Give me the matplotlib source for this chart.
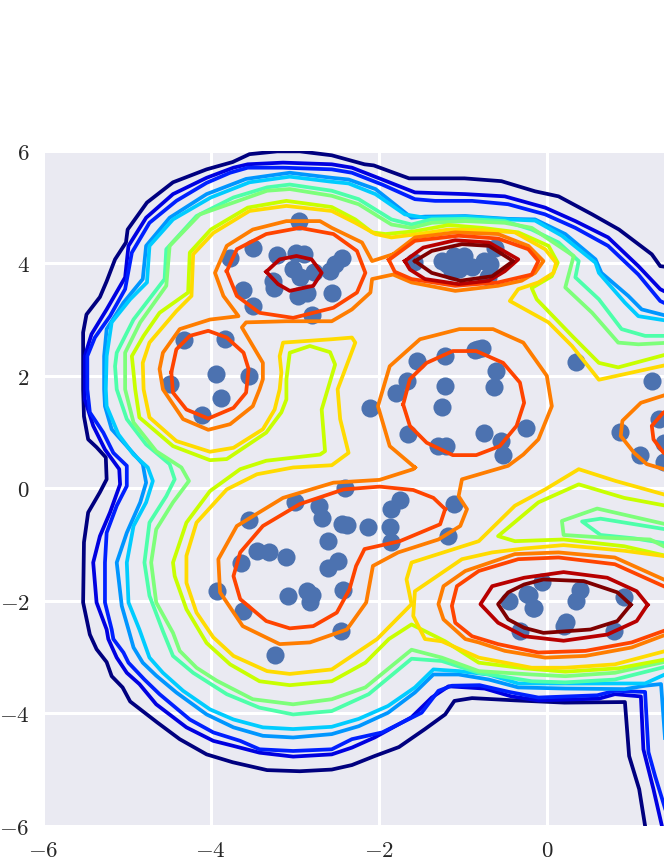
import matplotlib
matplotlib.use("Agg")
import matplotlib.pyplot as plt

plt.rcParams["mathtext.fontset"] = "cm"

# Scatter points
points_x = [-2.95, -3.5, -3.77, -3.21, -2.98, -2.89, -3.02, -2.94, -2.77, -3.26, -3.25, -3.62, -3.5, -2.96, -2.86,
            -2.56, -2.79, -2.58, -2.52, -2.44,
            -0.62, -1.25, -1.1, -1.19, -1.05, -0.89, -0.75, -0.68, -1.58, -0.98, -1.13, -0.7,
            -4.32, -3.83, -3.94, -3.54, -4.48, -4.11, -3.88,
            -1.54, -1.21, -0.82, -0.86, -0.77, -0.61, -0.63, -1.67, -1.79, -1.21, -1.25, -2.11, -1.65, -1.3, -1.2,
            -0.75, -0.55, -0.52, -0.25,
            0.35, 1.25, 0.87, 1.11, 1.33, 1.4, 1.4,
            -2.4, -3.0, -3.54, -2.71, -2.68, -2.44, -2.38, -2.13, -1.75, -1.85, -1.87, -1.85, -1.1, -1.18, -2.6,
            -2.48, -2.6, -3.45, -3.31, -3.11, -3.64, -2.43, -3.93, -3.08, -2.86, -2.79, -2.82, -3.62, -2.45, -3.23,
            -0.06, -0.21, -0.17, 0.4, 0.35, 0.92, 0.23, 0.2, 0.8, -0.45, -0.23, -0.15, -0.32]
points_y = [4.75, 4.28, 4.1, 4.14, 4.19, 4.16, 3.89, 3.75, 3.84, 3.68, 3.56, 3.52, 3.24, 3.41, 3.48,
            3.47, 3.08, 3.86, 3.98, 4.1,
            4.28, 4.04, 4.13, 3.98, 3.89, 3.93, 4.04, 3.98, 4.02, 4.13, 3.86, 3.75,
            2.63, 2.65, 2.04, 1.99, 1.85, 1.3, 1.6,
            2.27, 2.35, 2.47, 2.45, 2.49, 2.08, 1.8, 1.9, 1.69, 1.81, 1.44, 1.42, 0.96, 0.75, 0.76,
            0.98, 0.84, 0.6, 1.08,
            2.24, 1.9, 1.0, 0.59, 1.23, 0.46, 0.8,
            0.0, -0.25, -0.57, -0.32, -0.53, -0.64, -0.66, -0.69, -0.2, -0.36, -0.68, -0.96, -0.28, -0.84, -0.94,
            -1.3, -1.42, -1.12, -1.14, -1.23, -1.32, -1.8, -1.83, -1.92, -1.83, -1.9, -2.03, -2.19, -2.54, -2.97,
            -1.67, -1.9, -2.12, -1.8, -2.01, -1.94, -2.38, -2.45, -2.54, -2.01, -1.88, -2.12, -2.54]

# Contours, lowest level first
navy_line = [(1.17, -6), (1.1, -5.35), (0.98, -4.76), (0.93, -3.8), (0.21, -3.81), (-0.38, -3.77), (-0.89, -3.73),
             (-1.1, -3.78), (-1.21, -4.02), (-1.45, -4.28), (-1.76, -4.6), (-2.05, -4.76), (-2.32, -4.92),
             (-2.56, -5.0), (-2.94, -5.03), (-3.33, -5.01), (-3.74, -4.87), (-4.05, -4.73), (-4.37, -4.46),
             (-4.64, -4.16), (-4.96, -3.79), (-5.05, -3.54), (-5.18, -3.34), (-5.24, -3.09), (-5.36, -2.86),
             (-5.44, -2.6), (-5.52, -2.03), (-5.51, -0.96), (-5.46, -0.43), (-5.32, -0.07), (-5.24, 0.16),
             (-5.25, 0.55), (-5.36, 0.73), (-5.46, 0.87), (-5.51, 1.28), (-5.52, 1.76), (-5.52, 2.77), (-5.48, 3.09),
             (-5.32, 3.4), (-5.24, 3.68), (-5.14, 4.07), (-5.01, 4.37), (-4.99, 4.6), (-4.76, 5.08), (-4.45, 5.44),
             (-4.05, 5.67), (-3.74, 5.8), (-3.54, 5.94), (-3.21, 5.99), (-2.94, 5.99), (-2.56, 5.92), (-2.17, 5.76),
             (-2.06, 5.74), (-1.64, 5.51), (-0.98, 5.51), (-0.54, 5.46), (-0.14, 5.28), (0.14, 5.19), (0.54, 4.87),
             (0.86, 4.6), (1.25, 4.16), (1.35, 3.95), (1.6, 3.9)]
blue_outer = [(1.37, -6), (1.27, -5.35), (1.15, -4.64), (1.12, -3.7), (0.81, -3.66), (0.62, -3.74), (-0.1, -3.77),
              (-0.42, -3.7), (-0.74, -3.56), (-1.17, -3.52), (-1.37, -3.72), (-1.61, -4.07), (-2.05, -4.43),
              (-2.32, -4.61), (-2.56, -4.73), (-3.02, -4.77), (-3.42, -4.7), (-3.73, -4.58), (-3.97, -4.49),
              (-4.29, -4.25), (-4.65, -3.84), (-4.85, -3.48), (-5.0, -3.28), (-5.12, -3.01), (-5.22, -2.68),
              (-5.24, -2.51), (-5.36, -2.03), (-5.4, -1.32), (-5.32, -0.85), (-5.2, -0.43), (-5.08, 0.07),
              (-5.09, 0.34), (-5.26, 0.69), (-5.4, 1.11), (-5.5, 1.58), (-5.5, 2.35), (-5.42, 2.74), (-5.24, 3.18),
              (-5.02, 3.75), (-4.98, 4.31), (-4.77, 4.81), (-4.45, 5.23), (-4.05, 5.52), (-3.73, 5.7), (-3.56, 5.76),
              (-3.14, 5.79), (-2.56, 5.76), (-2.32, 5.7), (-1.96, 5.49), (-1.57, 5.26), (-0.97, 5.23), (-0.5, 5.19),
              (-0.02, 4.99), (0.34, 4.75), (0.73, 4.46), (1.09, 3.95), (1.35, 3.54), (1.6, 3.35)]
blue_inner = [(1.42, -5.75), (1.29, -5.12), (1.21, -4.69), (1.17, -3.62), (0.81, -3.6), (0.6, -3.68), (-0.1, -3.72),
              (-0.45, -3.62), (-0.8, -3.5), (-1.13, -3.51), (-1.29, -3.6), (-1.49, -3.99), (-1.96, -4.34),
              (-2.32, -4.46), (-2.56, -4.64), (-3.02, -4.67), (-3.42, -4.64), (-3.65, -4.49), (-3.97, -4.34),
              (-4.25, -4.11), (-4.61, -3.66), (-4.79, -3.4), (-4.98, -3.1), (-5.04, -2.92), (-5.16, -2.68),
              (-5.18, -2.51), (-5.26, -2.03), (-5.26, -1.32), (-5.24, -0.79), (-5.12, -0.31), (-5.0, 0.04), (-5.0, 0.4),
              (-5.16, 0.63), (-5.28, 0.99), (-5.44, 1.35), (-5.47, 1.76), (-5.47, 2.35), (-5.38, 2.68), (-5.2, 3.06),
              (-5.02, 3.54), (-4.94, 4.19), (-4.73, 4.72), (-4.41, 5.11), (-4.05, 5.43), (-3.77, 5.61), (-3.56, 5.7),
              (-3.14, 5.7), (-2.56, 5.67), (-2.32, 5.61), (-1.96, 5.4), (-1.57, 5.14), (-1.33, 5.11), (-0.89, 5.11),
              (-0.46, 5.05), (-0.02, 4.87), (0.34, 4.63), (0.73, 4.31), (1.09, 3.8), (1.35, 3.33), (1.6, 3.15)]
azure_line = [(1.42, -4.7), (1.36, -3.48), (1.17, -3.51), (0.93, -3.57), (0.22, -3.56), (-0.34, -3.54), (-0.69, -3.4),
              (-1.05, -3.31), (-1.35, -3.31), (-1.57, -3.63), (-1.89, -3.99), (-2.24, -4.23), (-2.56, -4.37),
              (-3.02, -4.43), (-3.38, -4.4), (-3.73, -4.25), (-4.05, -4.02), (-4.41, -3.63), (-4.65, -3.33),
              (-4.81, -3.1), (-4.92, -2.83), (-4.98, -2.51), (-5.06, -2.09), (-5.12, -1.32), (-5.0, -0.79),
              (-4.84, -0.25), (-4.77, 0.1), (-4.81, 0.43), (-5.0, 0.75), (-5.18, 1.05), (-5.26, 1.46), (-5.27, 1.76),
              (-5.27, 2.35), (-5.24, 2.83), (-5.04, 3.3), (-4.81, 3.72), (-4.77, 4.31), (-4.49, 4.81), (-4.05, 5.23),
              (-3.58, 5.5), (-3.06, 5.61), (-2.56, 5.52), (-2.36, 5.49), (-2.04, 5.32), (-1.61, 4.81), (-1.45, 4.83),
              (-0.97, 4.84), (-0.46, 4.79), (-0.14, 4.78), (0.22, 4.52), (0.58, 4.07), (0.65, 3.83), (0.97, 3.42),
              (1.13, 3.18), (1.6, 3.0)]
cyan_line = [(1.42, -3.3), (1.17, -3.47), (0.93, -3.47), (0.22, -3.47), (-0.34, -3.47), (-0.69, -3.31), (-1.05, -3.25),
             (-1.35, -3.22), (-1.57, -3.54), (-1.89, -3.87), (-2.24, -4.1), (-2.56, -4.24), (-3.02, -4.28),
             (-3.38, -4.25), (-3.73, -4.11), (-4.01, -3.93), (-4.33, -3.6), (-4.57, -3.28), (-4.73, -3.01),
             (-4.85, -2.51), (-4.98, -2.03), (-5.0, -1.32), (-4.92, -0.67), (-4.77, -0.25), (-4.69, 0.13),
             (-4.75, 0.37), (-4.92, 0.6), (-5.1, 0.96), (-5.24, 1.46), (-5.25, 1.76), (-5.24, 2.35), (-5.18, 2.95),
             (-4.96, 3.36), (-4.76, 3.66), (-4.73, 4.31), (-4.45, 4.78), (-4.0, 5.17), (-3.54, 5.44), (-3.06, 5.54),
             (-2.56, 5.45), (-2.36, 5.42), (-2.04, 5.23), (-1.69, 4.87), (-1.45, 4.81), (-0.97, 4.83), (-0.46, 4.78),
             (-0.14, 4.76), (0.18, 4.49), (0.58, 4.01), (0.62, 3.83), (0.93, 3.3), (1.09, 3.06), (1.6, 2.94)]
teal_line = [(1.42, -3.17), (0.81, -3.4), (0.22, -3.45), (-0.18, -3.43), (-0.81, -3.28), (-1.25, -3.07), (-1.61, -3.03),
             (-2.12, -3.66), (-2.56, -3.96), (-3.02, -4.02), (-3.42, -3.9), (-3.81, -3.66), (-4.21, -3.28),
             (-4.45, -2.98), (-4.57, -2.54), (-4.73, -1.91), (-4.79, -1.32), (-4.73, -0.61), (-4.53, -0.14),
             (-4.43, 0.16), (-4.49, 0.43), (-4.77, 0.78), (-5.0, 1.23), (-5.12, 1.76), (-5.14, 2.17), (-5.12, 2.41),
             (-4.92, 3.0), (-4.55, 3.72), (-4.53, 4.25), (-4.17, 4.84), (-3.73, 5.17), (-3.33, 5.35), (-3.06, 5.4),
             (-2.56, 5.29), (-2.24, 5.14), (-1.85, 4.78), (-1.61, 4.69), (-1.37, 4.78), (-0.97, 4.79), (-0.5, 4.75),
             (-0.18, 4.6), (0.14, 4.37), (0.38, 4.04), (0.34, 3.75), (0.62, 3.36), (0.89, 2.83), (1.17, 2.71),
             (1.6, 2.71)]
teal_island = [(1.42, -0.98), (1.04, -0.89), (0.64, -0.83), (0.42, -0.59), (0.64, -0.54), (1.42, -0.73)]
green_line = [(1.42, -3.08), (0.81, -3.28), (0.22, -3.34), (-0.18, -3.31), (-0.81, -3.25), (-1.25, -3.01),
              (-1.61, -2.87), (-2.16, -3.54), (-2.56, -3.75), (-3.02, -3.84), (-3.5, -3.75), (-3.93, -3.42),
              (-4.17, -3.19), (-4.37, -2.89), (-4.45, -2.57), (-4.65, -2.03), (-4.71, -1.32), (-4.65, -0.73),
              (-4.45, -0.25), (-4.26, 0.13), (-4.35, 0.37), (-4.65, 0.66), (-4.92, 1.17), (-5.02, 1.76), (-5.02, 2.41),
              (-4.84, 2.95), (-4.53, 3.6), (-4.49, 4.31), (-4.13, 4.87), (-3.73, 5.08), (-3.33, 5.29), (-3.06, 5.32),
              (-2.56, 5.2), (-2.24, 5.05), (-1.85, 4.69), (-1.61, 4.63), (-1.37, 4.72), (-0.97, 4.75), (-0.5, 4.72),
              (-0.18, 4.63), (0.14, 4.31), (0.32, 4.13), (0.22, 3.57), (0.54, 3.12), (0.85, 2.59), (1.09, 2.56),
              (1.6, 2.6)]
green_island = [(1.42, -1.05), (1.23, -0.91), (0.72, -0.88), (0.2, -0.83), (0.18, -0.58), (0.6, -0.36), (1.42, -0.64)]
lime_line = [(1.42, -3.04), (0.85, -3.2), (0.22, -3.26), (-0.27, -3.2), (-0.81, -3.1), (-1.21, -2.72), (-1.61, -2.42),
             (-1.88, -2.68), (-2.16, -3.1), (-2.56, -3.43), (-3.06, -3.5), (-3.42, -3.43), (-3.77, -3.13),
             (-4.05, -2.75), (-4.29, -2.15), (-4.43, -1.56), (-4.45, -1.32), (-4.29, -0.61), (-4.01, -0.05),
             (-3.65, 0.34), (-3.34, 0.49), (-2.7, 0.6), (-2.64, 0.66), (-2.68, 1.4), (-2.52, 2.2), (-2.58, 2.42),
             (-2.82, 2.53), (-3.06, 2.41), (-3.1, 1.94), (-3.1, 1.58), (-3.16, 1.35), (-3.34, 0.99), (-3.81, 0.52),
             (-4.01, 0.5), (-4.45, 0.75), (-4.85, 1.26), (-4.9, 1.76), (-4.92, 2.06), (-4.94, 2.35), (-4.8, 2.71),
             (-4.61, 3.12), (-4.27, 3.48), (-4.25, 4.19), (-4.0, 4.6), (-3.56, 4.99), (-3.1, 5.11), (-2.56, 5.0),
             (-2.28, 4.78), (-2.08, 4.55), (-1.92, 4.52), (-1.57, 4.57), (-1.17, 4.68), (-0.77, 4.63), (-0.34, 4.55),
             (0.02, 4.31), (0.13, 4.01), (0.06, 3.77), (-0.18, 3.56), (-0.12, 3.36), (0.3, 2.71), (0.62, 2.23),
             (0.85, 2.15), (1.6, 2.45)]
lime_tongue = [(1.42, -0.31), (0.92, -0.17), (0.38, 0.07), (-0.1, -0.25), (-0.58, -0.85), (-0.38, -0.94), (0.2, -0.91),
               (0.92, -1.03), (1.42, -1.2)]
yellow_line = [(1.42, -0.12), (0.82, 0.13), (0.38, 0.34), (-0.02, -0.02), (-0.38, -0.31), (-0.81, -0.94), (-1.61, -1.32),
               (-1.67, -1.62), (-1.61, -2.06), (-2.02, -2.68), (-2.56, -3.22), (-3.06, -3.3), (-3.33, -3.25),
               (-3.73, -2.98), (-3.97, -2.65), (-4.17, -2.21), (-4.29, -1.68), (-4.29, -1.2), (-4.17, -0.61),
               (-3.81, -0.02), (-3.45, 0.25), (-3.02, 0.37), (-2.56, 0.41), (-2.36, 0.63), (-2.46, 1.23), (-2.49, 1.76),
               (-2.28, 2.59), (-2.32, 2.68), (-2.56, 2.65), (-3.14, 2.59), (-3.18, 2.35), (-3.16, 2.06), (-3.18, 1.76),
               (-3.24, 1.4), (-3.38, 1.05), (-3.73, 0.72), (-4.01, 0.65), (-4.41, 0.84), (-4.73, 1.26), (-4.8, 1.76),
               (-4.81, 2.23), (-4.73, 2.59), (-4.41, 3.15), (-4.23, 3.42), (-4.21, 4.16), (-3.97, 4.54), (-3.54, 4.93),
               (-3.1, 5.02), (-2.56, 4.93), (-2.28, 4.72), (-2.04, 4.52), (-1.85, 4.46), (-1.53, 4.52), (-1.17, 4.6),
               (-0.77, 4.59), (-0.38, 4.55), (-0.02, 4.25), (0.11, 4.01), (0.08, 3.83), (-0.1, 3.66), (-0.34, 3.54),
               (-0.44, 3.33), (0.02, 2.95), (0.3, 2.53), (0.62, 1.93), (1.6, 2.25)]
yellow_ring = [(1.42, -1.21), (0.92, -1.11), (0.2, -1.01), (-0.27, -1.07), (-0.65, -1.14), (-1.01, -1.26), (-1.57, -1.83),
               (-1.59, -2.27), (-1.45, -2.68), (-1.25, -2.72), (-0.81, -3.01), (-0.18, -3.19), (0.22, -3.19),
               (0.81, -3.13), (1.42, -2.89)]
orange_upper = [(-1.83, 4.16), (-1.57, 4.46), (-1.09, 4.55), (-0.58, 4.52), (-0.22, 4.31), (-0.04, 4.04), (-0.14, 3.83),
                (-0.3, 3.69), (-0.58, 3.6), (-1.09, 3.51), (-1.61, 3.66), (-1.83, 3.8), (-2.08, 3.72), (-2.1, 3.48),
                (-2.32, 3.18), (-2.56, 2.97), (-3.1, 2.97), (-3.58, 2.95), (-3.63, 2.86), (-3.38, 2.23), (-3.38, 1.94),
                (-3.42, 1.76), (-3.5, 1.46), (-3.77, 1.14), (-4.03, 1.04), (-4.33, 1.23), (-4.57, 1.76), (-4.61, 2.12),
                (-4.57, 2.41), (-4.37, 2.83), (-4.01, 3.0), (-3.67, 3.06), (-3.85, 3.42), (-3.95, 3.83), (-3.81, 4.31),
                (-3.5, 4.6), (-3.1, 4.75), (-2.7, 4.75), (-2.56, 4.63), (-2.2, 4.37), (-2.08, 4.04), (-1.83, 4.16)]
orange_lower = [(-1.57, 0.37), (-1.87, 0.75), (-2.01, 1.46), (-1.87, 2.17), (-1.51, 2.65), (-1.04, 2.83), (-0.64, 2.83),
                (-0.28, 2.59), (0.0, 2.0), (0.06, 1.46), (-0.1, 0.87), (-0.28, 0.6), (-0.46, 0.4), (-1.01, 0.16),
                (-1.05, -0.14), (-0.95, -0.37), (-1.03, -0.67), (-1.29, -0.91), (-1.77, -1.14), (-2.07, -1.38),
                (-2.15, -2.03), (-2.38, -2.51), (-2.82, -2.74), (-3.18, -2.77), (-3.62, -2.45), (-3.89, -1.85),
                (-3.91, -1.26), (-3.69, -0.67), (-3.14, -0.17), (-2.54, 0.1), (-1.99, 0.15), (-1.59, 0.34), (-1.57, 0.37)]
orange_right = [(1.6, 1.75), (1.12, 1.52), (0.9, 1.2), (0.88, 0.93), (1.04, 0.63), (1.19, 0.43), (1.6, 0.25)]
orange_bottom = [(1.42, -1.64), (0.81, -1.23), (0.14, -1.14), (-0.38, -1.17), (-0.97, -1.47), (-1.23, -1.74), (-1.29, -2.06),
                 (-1.23, -2.33), (-0.97, -2.68), (-0.81, -2.74), (-0.5, -2.89), (-0.02, -3.01), (0.46, -2.98),
                 (1.01, -2.83), (1.42, -2.6)]
redorange_top = [(-1.88, 4.06), (-1.57, 4.4), (-1.05, 4.49), (-0.58, 4.44), (-0.22, 4.25), (-0.1, 4.04), (-0.18, 3.8),
                 (-0.58, 3.66), (-1.09, 3.6), (-1.61, 3.72), (-1.81, 3.85), (-1.88, 4.06)]
redorange_upper = [(-3.81, 3.86), (-3.69, 4.25), (-3.34, 4.52), (-2.94, 4.63), (-2.54, 4.52), (-2.26, 4.22), (-2.16, 3.83),
                   (-2.26, 3.48), (-2.54, 3.21), (-3.02, 3.03), (-3.42, 3.12), (-3.69, 3.42), (-3.81, 3.86)]
redorange_left = [(-4.47, 2.06), (-4.41, 2.47), (-4.25, 2.71), (-4.03, 2.8), (-3.81, 2.68), (-3.61, 2.41), (-3.55, 2.12),
                  (-3.58, 1.7), (-3.73, 1.43), (-4.03, 1.24), (-4.29, 1.4), (-4.45, 1.7), (-4.47, 2.06)]
redorange_center = [(-1.71, 1.49), (-1.63, 1.94), (-1.43, 2.23), (-1.12, 2.44), (-0.84, 2.44), (-0.52, 2.23), (-0.32, 1.88),
                    (-0.27, 1.52), (-0.36, 1.11), (-0.56, 0.75), (-0.84, 0.59), (-1.12, 0.59), (-1.43, 0.81),
                    (-1.63, 1.11), (-1.71, 1.49)]
redorange_lower = [(-1.21, -0.37), (-1.35, -0.17), (-1.59, -0.03), (-1.99, 0.03), (-2.42, -0.02), (-2.94, -0.28),
                   (-3.38, -0.67), (-3.65, -1.14), (-3.73, -1.56), (-3.65, -1.97), (-3.34, -2.36), (-3.06, -2.49),
                   (-2.78, -2.45), (-2.5, -2.21), (-2.35, -1.8), (-2.27, -1.38), (-2.17, -1.08), (-1.75, -0.94),
                   (-1.27, -0.64), (-1.21, -0.37)]
redorange_right = [(1.6, 1.45), (1.39, 1.35), (1.25, 1.11), (1.27, 0.87), (1.39, 0.63), (1.6, 0.5)]
redorange_bottom = [(1.42, -1.76), (0.81, -1.35), (0.14, -1.23), (-0.34, -1.26), (-0.81, -1.47), (-1.07, -1.74), (-1.13, -2.09),
                    (-1.09, -2.39), (-0.89, -2.63), (-0.58, -2.77), (-0.1, -2.92), (0.46, -2.89), (1.01, -2.74),
                    (1.42, -2.52)]
red_top = [(-1.69, 4.04), (-1.47, 4.28), (-1.09, 4.41), (-0.69, 4.37), (-0.34, 4.07), (-0.5, 3.86), (-0.69, 3.69),
           (-1.05, 3.63), (-1.45, 3.72), (-1.63, 3.89), (-1.69, 4.04)]
red_upper = [(-3.34, 3.85), (-3.18, 4.07), (-2.98, 4.13), (-2.8, 4.07), (-2.68, 3.83), (-2.78, 3.6), (-3.06, 3.51),
             (-3.2, 3.63), (-3.34, 3.85)]
red_bottom = [(1.2, -2.07), (1.07, -1.83), (0.72, -1.59), (0.2, -1.49), (-0.27, -1.59), (-0.65, -1.74), (-0.79, -2.06),
              (-0.58, -2.39), (-0.27, -2.63), (0.2, -2.71), (0.72, -2.6), (1.07, -2.36), (1.2, -2.07)]
dark_top = [(-1.57, 4.04), (-1.37, 4.22), (-1.01, 4.34), (-0.69, 4.31), (-0.4, 4.04), (-0.65, 3.77), (-1.03, 3.69),
            (-1.37, 3.83), (-1.57, 4.04)]
dark_bottom = [(1.0, -2.07), (0.84, -1.85), (0.44, -1.65), (-0.04, -1.62), (-0.27, -1.71), (-0.46, -1.85), (-0.58, -2.06),
               (-0.46, -2.33), (-0.27, -2.48), (-0.04, -2.57), (0.52, -2.51), (0.84, -2.36), (1.0, -2.07)]

tick_values = [-6, -4, -2, 0, 2, 4, 6]
x_tick_labels = [r"$-6$", r"$-4$", r"$-2$", r"$0$", "", "", ""]
y_tick_labels = [r"$-6$", r"$-4$", r"$-2$", r"$0$", r"$2$", r"$4$", r"$6$"]

contours = [
    ([navy_line], "#00007f"),
    ([blue_outer], "#0000e0"),
    ([blue_inner], "#0020ff"),
    ([azure_line], "#0096ff"),
    ([cyan_line], "#00ccff"),
    ([teal_line, teal_island], "#4dffaa"),
    ([green_line, green_island], "#7dff7a"),
    ([lime_line, lime_tongue], "#c8ff00"),
    ([yellow_line, yellow_ring], "#ffdb00"),
    ([orange_upper, orange_lower, orange_right, orange_bottom], "#ff7d00"),
    ([redorange_top, redorange_upper, redorange_left, redorange_center, redorange_lower, redorange_right,
      redorange_bottom], "#ff4400"),
    ([red_top, red_upper, red_bottom], "#b80000"),
    ([dark_top, dark_bottom], "#7f0000"),
]

fig = plt.figure(figsize=(6.64, 8.6), dpi=100)
# Axes run past the right edge of the figure, the picture is cut there
ax = fig.add_axes([42.8 / 664, 34.2 / 860, 1008 / 664, 675 / 860], facecolor="#eaeaf2")

ax.scatter(points_x, points_y, s=170, color="#4c72b0", linewidths=0, zorder=2)
for lines, color in contours:
    for line in lines:
        xs, ys = zip(*line)
        ax.plot(xs, ys, color=color, linewidth=2.7, zorder=3, solid_joinstyle="round")

ax.set_xlim(-6, 6)
ax.set_ylim(-6, 6)
ax.set_xticks(tick_values)
ax.set_xticklabels(x_tick_labels)
ax.set_yticks(tick_values)
ax.set_yticklabels(y_tick_labels)
ax.grid(True, color="white", linewidth=2.2)
ax.set_axisbelow(True)
ax.tick_params(length=0, labelsize=16.5, pad=9.5, labelcolor="#262626")
for spine in ax.spines.values():
    spine.set_visible(False)

fig.savefig("out.png", dpi=100)
